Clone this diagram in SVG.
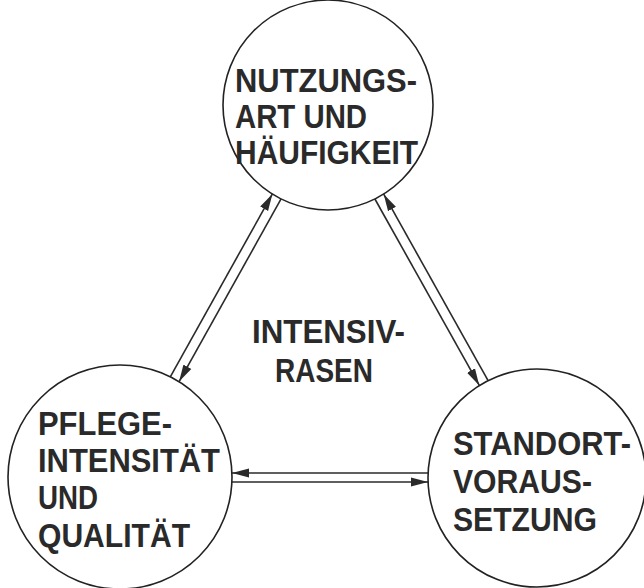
<svg xmlns="http://www.w3.org/2000/svg" width="644" height="588" viewBox="0 0 644 588">
<style>
.c{fill:#fff;stroke:#222;stroke-width:1.6}
.t{font-family:"Liberation Sans",Arial,sans-serif;font-weight:bold;font-size:34px;fill:#2a2a2a}
.l{stroke:#2a2a2a;stroke-width:1.6;fill:none;marker-end:url(#ah)}
</style>
<defs>
<marker id="ah" markerUnits="userSpaceOnUse" markerWidth="18" markerHeight="10" refX="17" refY="5" orient="auto">
<path d="M0,0.5 L17,5 L0,9.5 z" fill="#2a2a2a"/>
</marker>
</defs>
<rect width="644" height="588" fill="#fff"/>
<g id="connectors">
<line class="l" x1="170.3" y1="376.8" x2="272.4" y2="193.9"/>
<line class="l" x1="281.2" y1="198.7" x2="179.1" y2="381.6"/>
<line class="l" x1="374.9" y1="199.0" x2="479.3" y2="385.4"/>
<line class="l" x1="488.1" y1="380.6" x2="383.7" y2="194.2"/>
<line class="l" x1="428" y1="473" x2="232" y2="473"/>
<line class="l" x1="232" y1="482" x2="428" y2="482"/>
</g>
<g id="nutzung">
<circle class="c" cx="328" cy="105" r="105"/>
<text class="t" x="235" y="92" textLength="182" lengthAdjust="spacingAndGlyphs">NUTZUNGS-</text>
<text class="t" x="235" y="128" textLength="132" lengthAdjust="spacingAndGlyphs">ART UND</text>
<text class="t" x="235" y="164" textLength="183" lengthAdjust="spacingAndGlyphs">HÄUFIGKEIT</text>
</g>
<g id="pflege">
<circle class="c" cx="120" cy="477" r="112"/>
<text class="t" x="38" y="435" textLength="134" lengthAdjust="spacingAndGlyphs">PFLEGE-</text>
<text class="t" x="38" y="472" textLength="182" lengthAdjust="spacingAndGlyphs">INTENSITÄT</text>
<text class="t" x="38" y="509" textLength="60" lengthAdjust="spacingAndGlyphs">UND</text>
<text class="t" x="38" y="547" textLength="152" lengthAdjust="spacingAndGlyphs">QUALITÄT</text>
</g>
<g id="standort">
<circle class="c" cx="537" cy="478" r="109"/>
<text class="t" x="453" y="455" textLength="178" lengthAdjust="spacingAndGlyphs">STANDORT-</text>
<text class="t" x="453" y="493" textLength="139" lengthAdjust="spacingAndGlyphs">VORAUS-</text>
<text class="t" x="453" y="531" textLength="144" lengthAdjust="spacingAndGlyphs">SETZUNG</text>
</g>
<g id="center">
<text class="t" x="252" y="343" textLength="153" lengthAdjust="spacingAndGlyphs">INTENSIV-</text>
<text class="t" x="275" y="382" textLength="98" lengthAdjust="spacingAndGlyphs">RASEN</text>
</g>
</svg>
